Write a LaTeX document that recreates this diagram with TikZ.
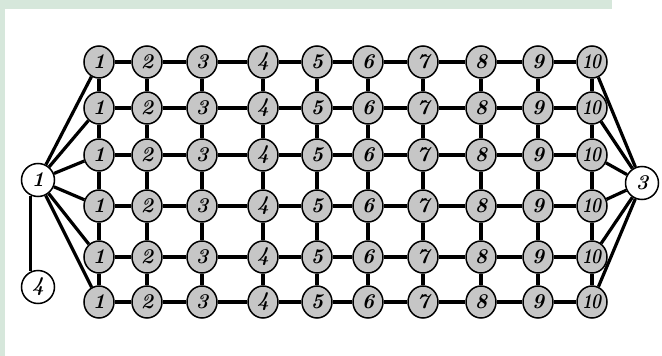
\documentclass[tikz,border=0pt]{standalone}
\usepackage{fontspec}
\usepackage{graphicx}
\usetikzlibrary{shapes.geometric,backgrounds}
\definecolor{paleg}{RGB}{214,231,219}
\definecolor{nodegray}{RGB}{198,198,198}
\newcommand{\numlab}[1]{\ifnum#1=10 \scalebox{0.8}[1]{\kern-1pt 1\kern-1pt 0}\else #1\fi}
\begin{document}
\begin{tikzpicture}[x=1pt,y=-1pt,
  gnode/.style={ellipse,draw=black,line width=1.5pt,fill=nodegray,minimum width=30pt,minimum height=32pt,inner sep=0pt,font=\fontsize{21}{21}\selectfont\bfseries\itshape},
  wnode/.style={circle,draw=black,line width=1.5pt,fill=white,minimum size=33pt,inner sep=0pt,font=\fontsize{21}{21}\selectfont\bfseries\itshape},
  edge/.style={line width=3.2pt,black}]
\useasboundingbox (0,0) rectangle (662,356);
\def\colx{{99,147,202,263,317,368,423,481,538,592}}
\def\rowy{{62,108,155,206,257,302}}
% white nodes
\node[wnode] (w1) at (38,180) {1};
\node[wnode] (w3) at (642,183) {3};
\node[wnode] (w4) at (38,287) {4};
% grid nodes
\foreach \r in {1,...,6}{
  \foreach \c in {1,...,10}{
    \pgfmathsetmacro{\xx}{\colx[\c-1]}
    \pgfmathsetmacro{\yy}{\rowy[\r-1]}
    \node[gnode] (n\r-\c) at (\xx,\yy) {\makebox[0pt]{\numlab{\c}}};
  }
}
\begin{scope}[on background layer]
\fill[white] (0,0) rectangle (662,356);
\fill[paleg] (0,0) rectangle (612,9);
\fill[paleg] (0,0) rectangle (5,356);
% horizontal edges
\foreach \r in {1,...,6}{
  \foreach \c [evaluate=\c as \d using int(\c+1)] in {1,...,9}{
    \draw[edge] (n\r-\c) -- (n\r-\d);
  }
}
% vertical edges
\foreach \r [evaluate=\r as \s using int(\r+1)] in {1,...,5}{
  \foreach \c in {1,...,10}{
    \draw[edge] (n\r-\c) -- (n\s-\c);
  }
}
% fan edges
\foreach \r in {1,...,6}{
  \draw[edge] (w1) -- (n\r-1);
  \draw[edge] (w3) -- (n\r-10);
}
\draw[edge] (w1.-115) -- (w4.115);
\end{scope}
\end{tikzpicture}
\end{document}
